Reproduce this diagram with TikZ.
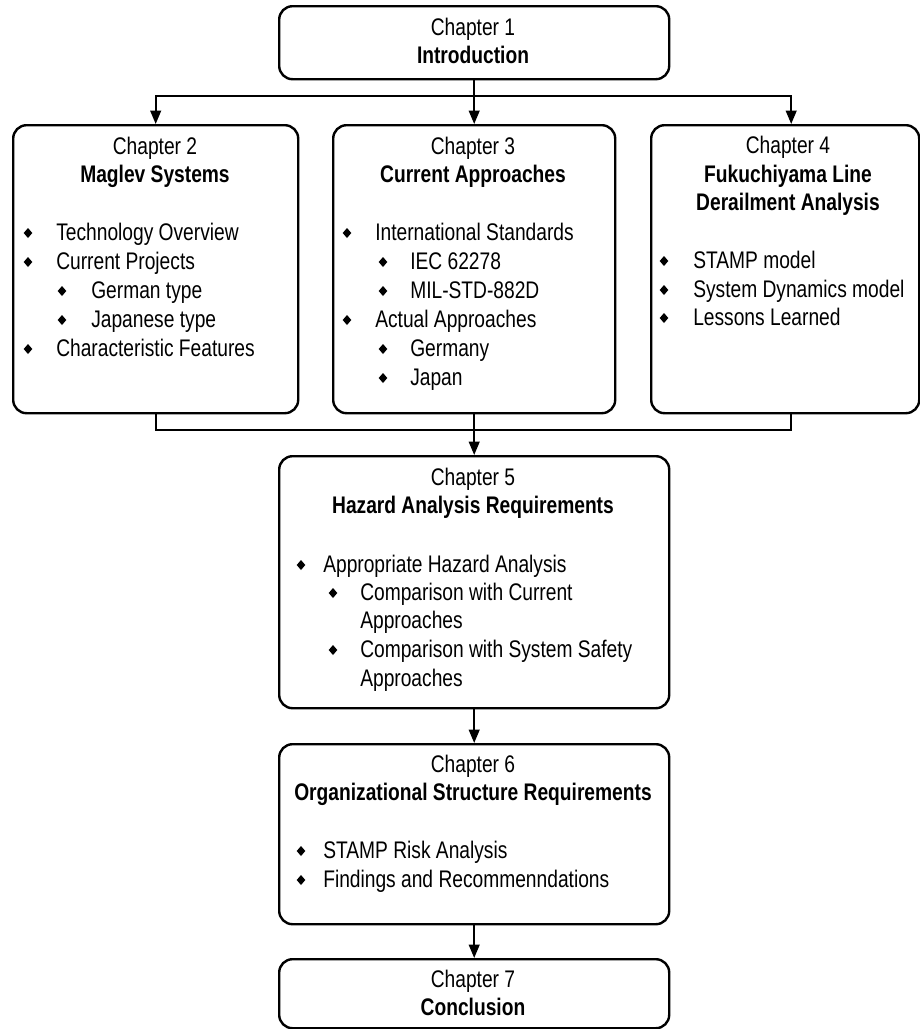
\documentclass[tikz,border=0pt]{standalone}
\usepackage{fontspec}
\setmainfont{Liberation Sans}[FakeStretch=0.8]
\usetikzlibrary{arrows.meta}
% bullet + text line: name, bullet x, text x, baseline y, text
\newcommand\entry[5]{%
  \pic at (#2,#4-7) {bul};
  \node[it] (#1) at (#3,#4) {#5};}
\begin{document}
\begin{tikzpicture}[x=0.75pt,y=-0.75pt,
  every node/.style={inner sep=0pt, font=\fontsize{18pt}{21pt}\selectfont},
  chbox/.style={draw, line width=1.8pt, rounded corners=10pt, anchor=north west},
  hd/.style={anchor=base},
  hdb/.style={anchor=base, font=\fontsize{18pt}{21pt}\selectfont\bfseries},
  it/.style={anchor=base west},
  conn/.style={line width=1.4pt},
  arr/.style={conn, -{Triangle[length=10pt,width=8pt]}},
  bul/.pic={\fill (0,-5) -- (4.3,0) -- (0,5) -- (-4.3,0) -- cycle;}
]
\useasboundingbox (0,0) rectangle (920,1029);

% chapter boxes
\node[chbox, minimum width=390*0.75pt, minimum height=73*0.75pt]  (c1) at (278,5)   {};
\node[chbox, minimum width=285*0.75pt, minimum height=288*0.75pt] (c2) at (12,124)  {};
\node[chbox, minimum width=282*0.75pt, minimum height=288*0.75pt] (c3) at (332,124) {};
\node[chbox, minimum width=268*0.75pt, minimum height=288*0.75pt] (c4) at (650,124) {};
\node[chbox, minimum width=390*0.75pt, minimum height=252*0.75pt] (c5) at (278,455) {};
\node[chbox, minimum width=390*0.75pt, minimum height=180*0.75pt] (c6) at (278,743) {};
\node[chbox, minimum width=390*0.75pt, minimum height=69*0.75pt]  (c7) at (278,958) {};

% Chapter 1
\node[hd]  (c1a) at (473,35) {Chapter 1};
\node[hdb] (c1b) at (473,63) {Introduction};

% Chapter 2
\node[hd]  (c2a) at (155,154) {Chapter 2};
\node[hdb] (c2b) at (155,182) {Maglev Systems};
\entry{c2i1}{28}{56}{240}{Technology Overview}
\entry{c2i2}{28}{56}{269}{Current Projects}
\entry{c2i3}{62}{91}{298}{German type}
\entry{c2i4}{62}{91}{327}{Japanese type}
\entry{c2i5}{28}{56}{356}{Characteristic Features}

% Chapter 3
\node[hd]  (c3a) at (473,154) {Chapter 3};
\node[hdb] (c3b) at (473,182) {Current Approaches};
\entry{c3i1}{347}{375}{240}{International Standards}
\entry{c3i2}{383}{410}{269}{IEC 62278}
\entry{c3i3}{383}{410}{298}{MIL-STD-882D}
\entry{c3i4}{347}{375}{327}{Actual Approaches}
\entry{c3i5}{383}{410}{356}{Germany}
\entry{c3i6}{383}{410}{385}{Japan}

% Chapter 4
\node[hd]  (c4a) at (788,153) {Chapter 4};
\node[hdb] (c4b) at (788,182) {Fukuchiyama Line};
\node[hdb] (c4c) at (788,210) {Derailment Analysis};
\entry{c4i1}{664}{693}{268}{STAMP model}
\entry{c4i2}{664}{693}{297}{System Dynamics model}
\entry{c4i3}{664}{693}{325}{Lessons Learned}

% Chapter 5
\node[hd]  (c5a) at (473,485) {Chapter 5};
\node[hdb] (c5b) at (473,513) {Hazard Analysis Requirements};
\entry{c5i1}{301}{323}{572}{Appropriate Hazard Analysis}
\entry{c5i2}{333}{360}{600}{Comparison with Current}
\node[it]  (c5i2b) at (360,628) {Approaches};
\entry{c5i3}{333}{360}{657}{Comparison with System Safety}
\node[it]  (c5i3b) at (360,686) {Approaches};

% Chapter 6
\node[hd]  (c6a) at (473,772) {Chapter 6};
\node[hdb] (c6b) at (473,800) {Organizational Structure Requirements};
\entry{c6i1}{301}{323}{858}{STAMP Risk Analysis}
\entry{c6i2}{301}{323}{887}{Findings and Recommenndations}

% Chapter 7
\node[hd]  (c7a) at (473,987)  {Chapter 7};
\node[hdb] (c7b) at (473,1015) {Conclusion};

% connectors
\coordinate (bus1) at (473,96);
\coordinate (bus2) at (473,430);
\draw[arr] (c1.south) -- (c3.north);
\draw[arr] (bus1) -| (c2.north);
\draw[arr] (bus1) -| ([xshift=4.5pt]c4.north);
\draw[conn] (c2.south) |- (bus2) -| ([xshift=4.5pt]c4.south);
\draw[arr] (c3.south) -- (c5.north);
\draw[arr] (c5.south) -- (c6.north);
\draw[arr] (c6.south) -- (c7.north);
\end{tikzpicture}
\end{document}
